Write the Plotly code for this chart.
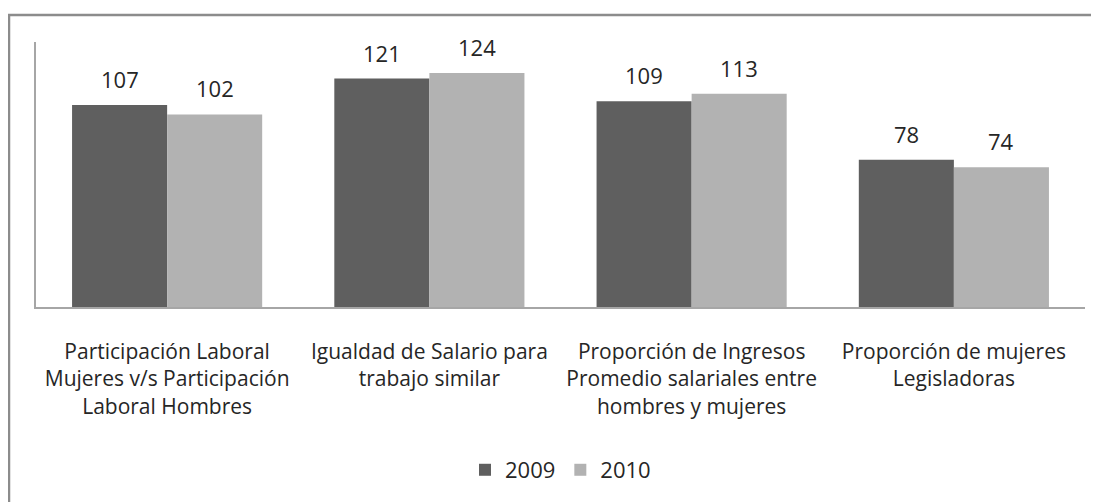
import plotly.graph_objects as go

categories = [
    "Participación Laboral<br>Mujeres v/s Participación<br>Laboral Hombres",
    "Igualdad de Salario para<br>trabajo similar",
    "Proporción de Ingresos<br>Promedio salariales entre<br>hombres y mujeres",
    "Proporción de mujeres<br>Legisladoras",
]
series_names = ["2009", "2010"]
values_2009 = [107, 121, 109, 78]
values_2010 = [102, 124, 113, 74]

colors = ["#5f5f5f", "#b2b2b2"]
FONT = "Open Sans"
TXT = "#262626"

fig = go.Figure()
for name, vals, col in zip(series_names, [values_2009, values_2010], colors):
    fig.add_trace(go.Bar(
        x=categories, y=vals, name=name,
        marker=dict(color=col, line=dict(width=0)),
    ))

# value labels above bars
annotations = []
for i, vals in enumerate([values_2009, values_2010]):
    shift = -47.5 if i == 0 else 47.5
    for c, v in zip(categories, vals):
        annotations.append(dict(
            x=c, y=v, text=str(v), showarrow=False, xref="x", yref="y",
            xshift=shift, yshift=9, yanchor="bottom",
            font=dict(family=FONT, size=22, color=TXT),
        ))

# page body has an 8px margin; plot area should sit at x 36..1085, y 42..307 on the page
fig.update_layout(
    width=1099, height=502,
    margin=dict(l=28, r=22, t=34, b=203),
    paper_bgcolor="white", plot_bgcolor="white",
    barmode="group", bargap=0.275, bargroupgap=0,
    showlegend=True,
    legend=dict(orientation="h", x=0.5, xanchor="center", y=-0.615, yanchor="middle",
                font=dict(family=FONT, size=22, color=TXT), itemwidth=30,
                traceorder="normal"),
    annotations=annotations,
    xaxis=dict(showline=True, linecolor="#a6a6a6", linewidth=1.5,
               ticks="outside", ticklen=25, tickcolor="rgba(0,0,0,0)",
               tickfont=dict(family=FONT, size=21, color=TXT), showgrid=False),
    yaxis=dict(range=[0, 140.4], showline=True, linecolor="#a6a6a6", linewidth=1.5,
               showticklabels=False, showgrid=False, zeroline=False, ticks=""),
    shapes=[dict(type="rect", xref="paper", yref="paper",
                 x0=(9 - 36) / 1049, x1=(1120 - 36) / 1049,
                 y0=(307 - 15) / 265, y1=(307 - 520) / 265,
                 line=dict(color="#8c8c8c", width=2.5), layer="below")],
)

fig.write_html("out.html")
